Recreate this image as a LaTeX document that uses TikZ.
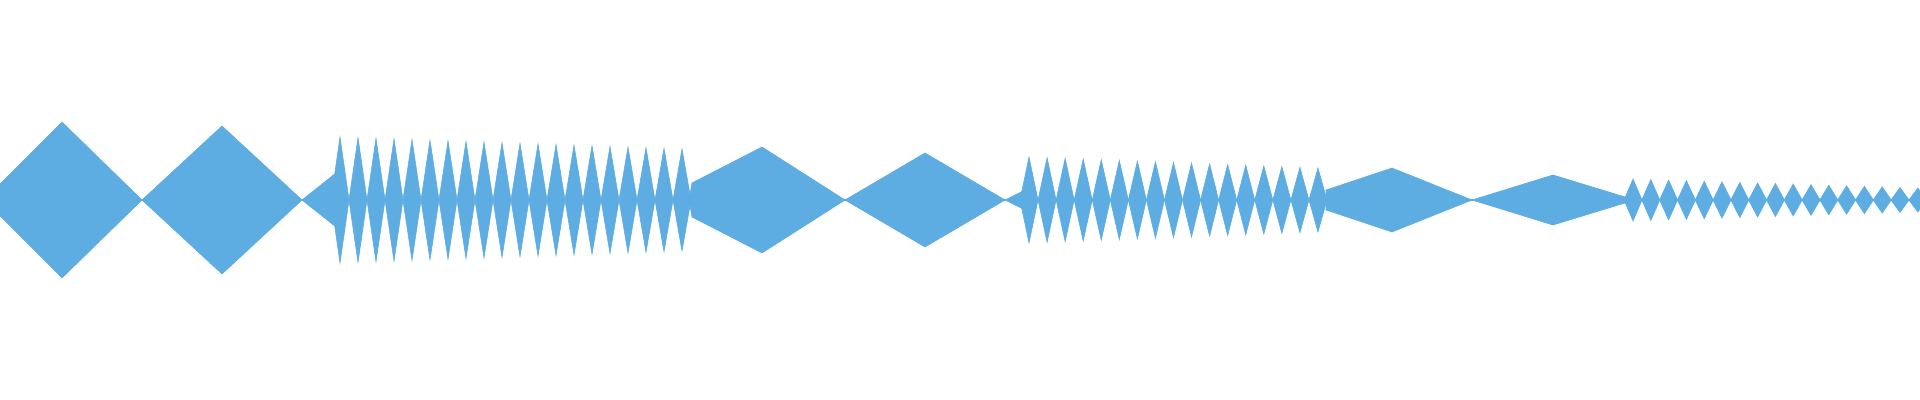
\documentclass[tikz,border=0pt]{standalone}
\definecolor{wave}{HTML}{5DADE2}
\begin{document}
\begin{tikzpicture}[x=0.5pt,y=0.5pt,wf/.style={fill=wave,draw=wave,line width=0.3pt}]
\useasboundingbox (0,-200) rectangle (1920,200);
\draw[wave,line width=1pt] (0,0) -- (1920,0);
\fill[wf] (0,16)--(62,78)--(142,0)--(62,-78)--(0,-16)--cycle;
\fill[wf] (142,0)--(222,74)--(302,0)--(222,-74)--cycle;
\fill[wf] (302,0)--(336,27)--(336,-27)--cycle;
\fill[wf] (689,0)--(692,17)--(762,53)--(845,0)--(762,-53)--(692,-17)--cycle;
\fill[wf] (845,0)--(925,47)--(1005,0)--(925,-47)--cycle;
\fill[wf] (1005,0)--(1025,10)--(1025,-10)--cycle;
\fill[wf] (1326,10)--(1392,32)--(1472,0)--(1392,-32)--(1326,-10)--cycle;
\fill[wf] (1472,0)--(1553,25)--(1625,3)--(1625,-3)--(1553,-25)--cycle;
% spike chains: x0, dx, n-1, h0, h1
\foreach \xo/\dx/\m/\ha/\hb in {340/18.0/19/63/51, 1029/18.06/16/43/32, 1633/17.8/16/21/12}{
  \foreach \i in {0,...,\m}{
    \pgfmathsetmacro{\xc}{\xo+\i*\dx}
    \pgfmathsetmacro{\hh}{\ha+(\hb-\ha)*\i/\m}
    \fill[wf] (\xc-9,0)--(\xc,\hh)--(\xc+9,0)--(\xc,-\hh)--cycle;
  }
}
\end{tikzpicture}
\end{document}
